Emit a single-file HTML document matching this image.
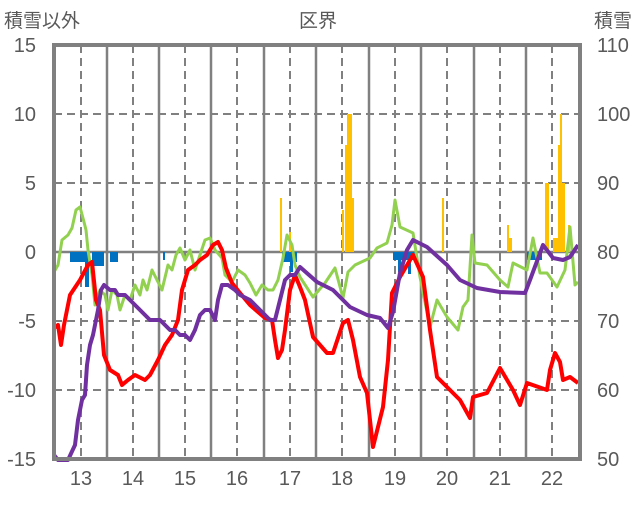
<!DOCTYPE html>
<html><head><meta charset="utf-8"><style>
body{margin:0;background:#fff}
svg text{font-family:"Liberation Sans","Noto Sans CJK JP",sans-serif;fill:#595959}
</style></head><body>
<svg width="636" height="501" viewBox="0 0 636 501" xmlns="http://www.w3.org/2000/svg">
<rect width="636" height="501" fill="#fff"/>
<!-- grid -->
<g stroke="#808080" stroke-width="2" stroke-dasharray="8,5" fill="none">
<line x1="54" y1="114" x2="580" y2="114"/><line x1="54" y1="183" x2="580" y2="183"/>
<line x1="54" y1="321" x2="580" y2="321"/><line x1="54" y1="390" x2="580" y2="390"/>
<line x1="81" y1="45" x2="81" y2="459"/><line x1="133" y1="45" x2="133" y2="459"/>
<line x1="185" y1="45" x2="185" y2="459"/><line x1="237" y1="45" x2="237" y2="459"/>
<line x1="290" y1="45" x2="290" y2="459"/><line x1="342" y1="45" x2="342" y2="459"/>
<line x1="395" y1="45" x2="395" y2="459"/><line x1="447" y1="45" x2="447" y2="459"/>
<line x1="500" y1="45" x2="500" y2="459"/><line x1="552" y1="45" x2="552" y2="459"/>
</g>
<g stroke="#808080" stroke-width="2.5">
<line x1="107" y1="45" x2="107" y2="459"/><line x1="159" y1="45" x2="159" y2="459"/>
<line x1="211" y1="45" x2="211" y2="459"/><line x1="264" y1="45" x2="264" y2="459"/>
<line x1="316" y1="45" x2="316" y2="459"/><line x1="369" y1="45" x2="369" y2="459"/>
<line x1="421" y1="45" x2="421" y2="459"/><line x1="474" y1="45" x2="474" y2="459"/>
<line x1="526" y1="45" x2="526" y2="459"/>
<line x1="54" y1="252" x2="580" y2="252"/>
</g>
<!-- bars -->
<g fill="#FFC000">
<rect x="280" y="198" width="2" height="54"/><rect x="289" y="232" width="2" height="20"/>
<rect x="342" y="210" width="2" height="42"/><rect x="345" y="145" width="2" height="107"/>
<rect x="347" y="114" width="5" height="138"/><rect x="352" y="198" width="2" height="54"/>
<rect x="442" y="198" width="2" height="54"/><rect x="507" y="225" width="2" height="27"/>
<rect x="509" y="238" width="3" height="14"/><rect x="545" y="183" width="4" height="69"/>
<rect x="553" y="238" width="5" height="14"/><rect x="558" y="145" width="2" height="107"/>
<rect x="560" y="114" width="2" height="138"/><rect x="562" y="183" width="3" height="69"/>
<rect x="568" y="225" width="2" height="27"/>
</g>
<g fill="#0070C0">
<rect x="70" y="252" width="18" height="10"/><rect x="85" y="252" width="4" height="35"/>
<rect x="92" y="252" width="12" height="14"/><rect x="110" y="252" width="8" height="10"/>
<rect x="163" y="252" width="2" height="8"/><rect x="282" y="252" width="15" height="10"/>
<rect x="290" y="252" width="3" height="20"/><rect x="393" y="252" width="22" height="8"/>
<rect x="398" y="252" width="3" height="20"/><rect x="408" y="252" width="3" height="22"/>
<rect x="527" y="252" width="15" height="8"/>
</g>
<!-- series -->
<polyline fill="none" stroke="#92D050" stroke-width="3" stroke-linejoin="round" points="54,272 58,265 62,240 68,235 72,228 76,210 80,207 84,222 86,230 88,250 92,275 95,305 100,290 105,295 108,310 112,290 117,295 120,310 125,295 130,300 135,285 140,295 143,280 147,290 152,270 158,282 162,290 168,265 172,270 176,255 180,248 185,260 190,250 195,270 200,255 205,240 210,238 215,250 222,258 225,275 232,282 238,270 245,275 250,283 256,295 262,285 268,290 273,290 278,280 283,258 287,235 292,245 295,265 300,277 313,297 325,283 335,268 343,298 348,272 355,265 370,258 377,248 387,243 392,225 395,200 400,227 413,233 420,277 430,327 437,300 447,317 458,330 463,307 468,300 472,235 475,263 487,265 500,280 508,287 513,263 527,270 533,238 540,273 547,273 557,287 565,270 570,227 575,285 578,282"/>
<polyline fill="none" stroke="#FF0000" stroke-width="4" stroke-linejoin="round" points="54,328 58,325 61,345 64,325 70,295 80,280 88,265 92,262 96,300 100,310 104,355 110,370 118,375 122,385 128,380 135,375 145,380 150,375 158,360 165,345 172,335 178,320 182,290 188,270 195,265 200,260 207,255 213,245 218,242 222,250 226,268 232,283 240,293 250,305 258,312 265,318 272,320 275,340 278,358 282,350 285,330 290,290 295,275 300,287 305,300 313,337 320,345 327,353 333,353 343,323 348,320 353,340 360,377 367,393 373,447 383,407 388,360 392,293 400,277 413,255 423,277 430,330 437,377 447,387 460,400 470,418 473,397 487,393 500,368 513,390 520,405 527,383 547,390 550,370 555,353 560,362 563,380 570,377 578,383"/>
<polyline fill="none" stroke="#7030A0" stroke-width="4" stroke-linejoin="round" points="54,455 58,460 68,460 75,445 78,420 82,400 85,395 87,365 90,345 93,335 95,325 98,310 101,290 104,285 110,290 115,290 118,295 125,295 130,300 135,305 140,310 145,315 150,320 160,320 165,325 170,330 175,330 180,335 185,335 190,340 195,330 200,315 205,310 210,310 215,320 218,300 222,285 228,285 235,290 240,295 250,300 255,305 260,310 265,315 270,320 275,320 280,300 285,280 290,275 295,275 300,267 317,282 333,290 350,307 367,315 380,318 388,328 393,312 400,273 407,250 413,240 427,247 447,265 460,280 477,288 500,292 525,293 530,280 543,245 553,258 563,260 570,257 578,245"/>
<!-- frame -->
<rect x="54" y="45" width="526" height="414" fill="none" stroke="#808080" stroke-width="4"/>
<!-- labels -->
<g font-size="20" text-anchor="end">
<text x="36" y="52">15</text><text x="36" y="121">10</text><text x="36" y="190">5</text>
<text x="36" y="259">0</text><text x="36" y="328">-5</text><text x="36" y="397">-10</text><text x="36" y="466">-15</text>
</g>
<g font-size="20" text-anchor="start">
<text x="597" y="52">110</text><text x="597" y="121">100</text><text x="597" y="190">90</text>
<text x="597" y="259">80</text><text x="597" y="328">70</text><text x="597" y="397">60</text><text x="597" y="466">50</text>
</g>
<g font-size="20" text-anchor="middle">
<text x="81" y="485">13</text><text x="133" y="485">14</text><text x="185" y="485">15</text><text x="237" y="485">16</text>
<text x="290" y="485">17</text><text x="342" y="485">18</text><text x="395" y="485">19</text><text x="447" y="485">20</text>
<text x="500" y="485">21</text><text x="552" y="485">22</text>
</g>
<text x="4" y="27" font-size="19">積雪以外</text>
<text x="318" y="27" font-size="19" text-anchor="middle">区界</text>
<text x="632" y="27" font-size="19" text-anchor="end">積雪</text>
</svg>
</body></html>
